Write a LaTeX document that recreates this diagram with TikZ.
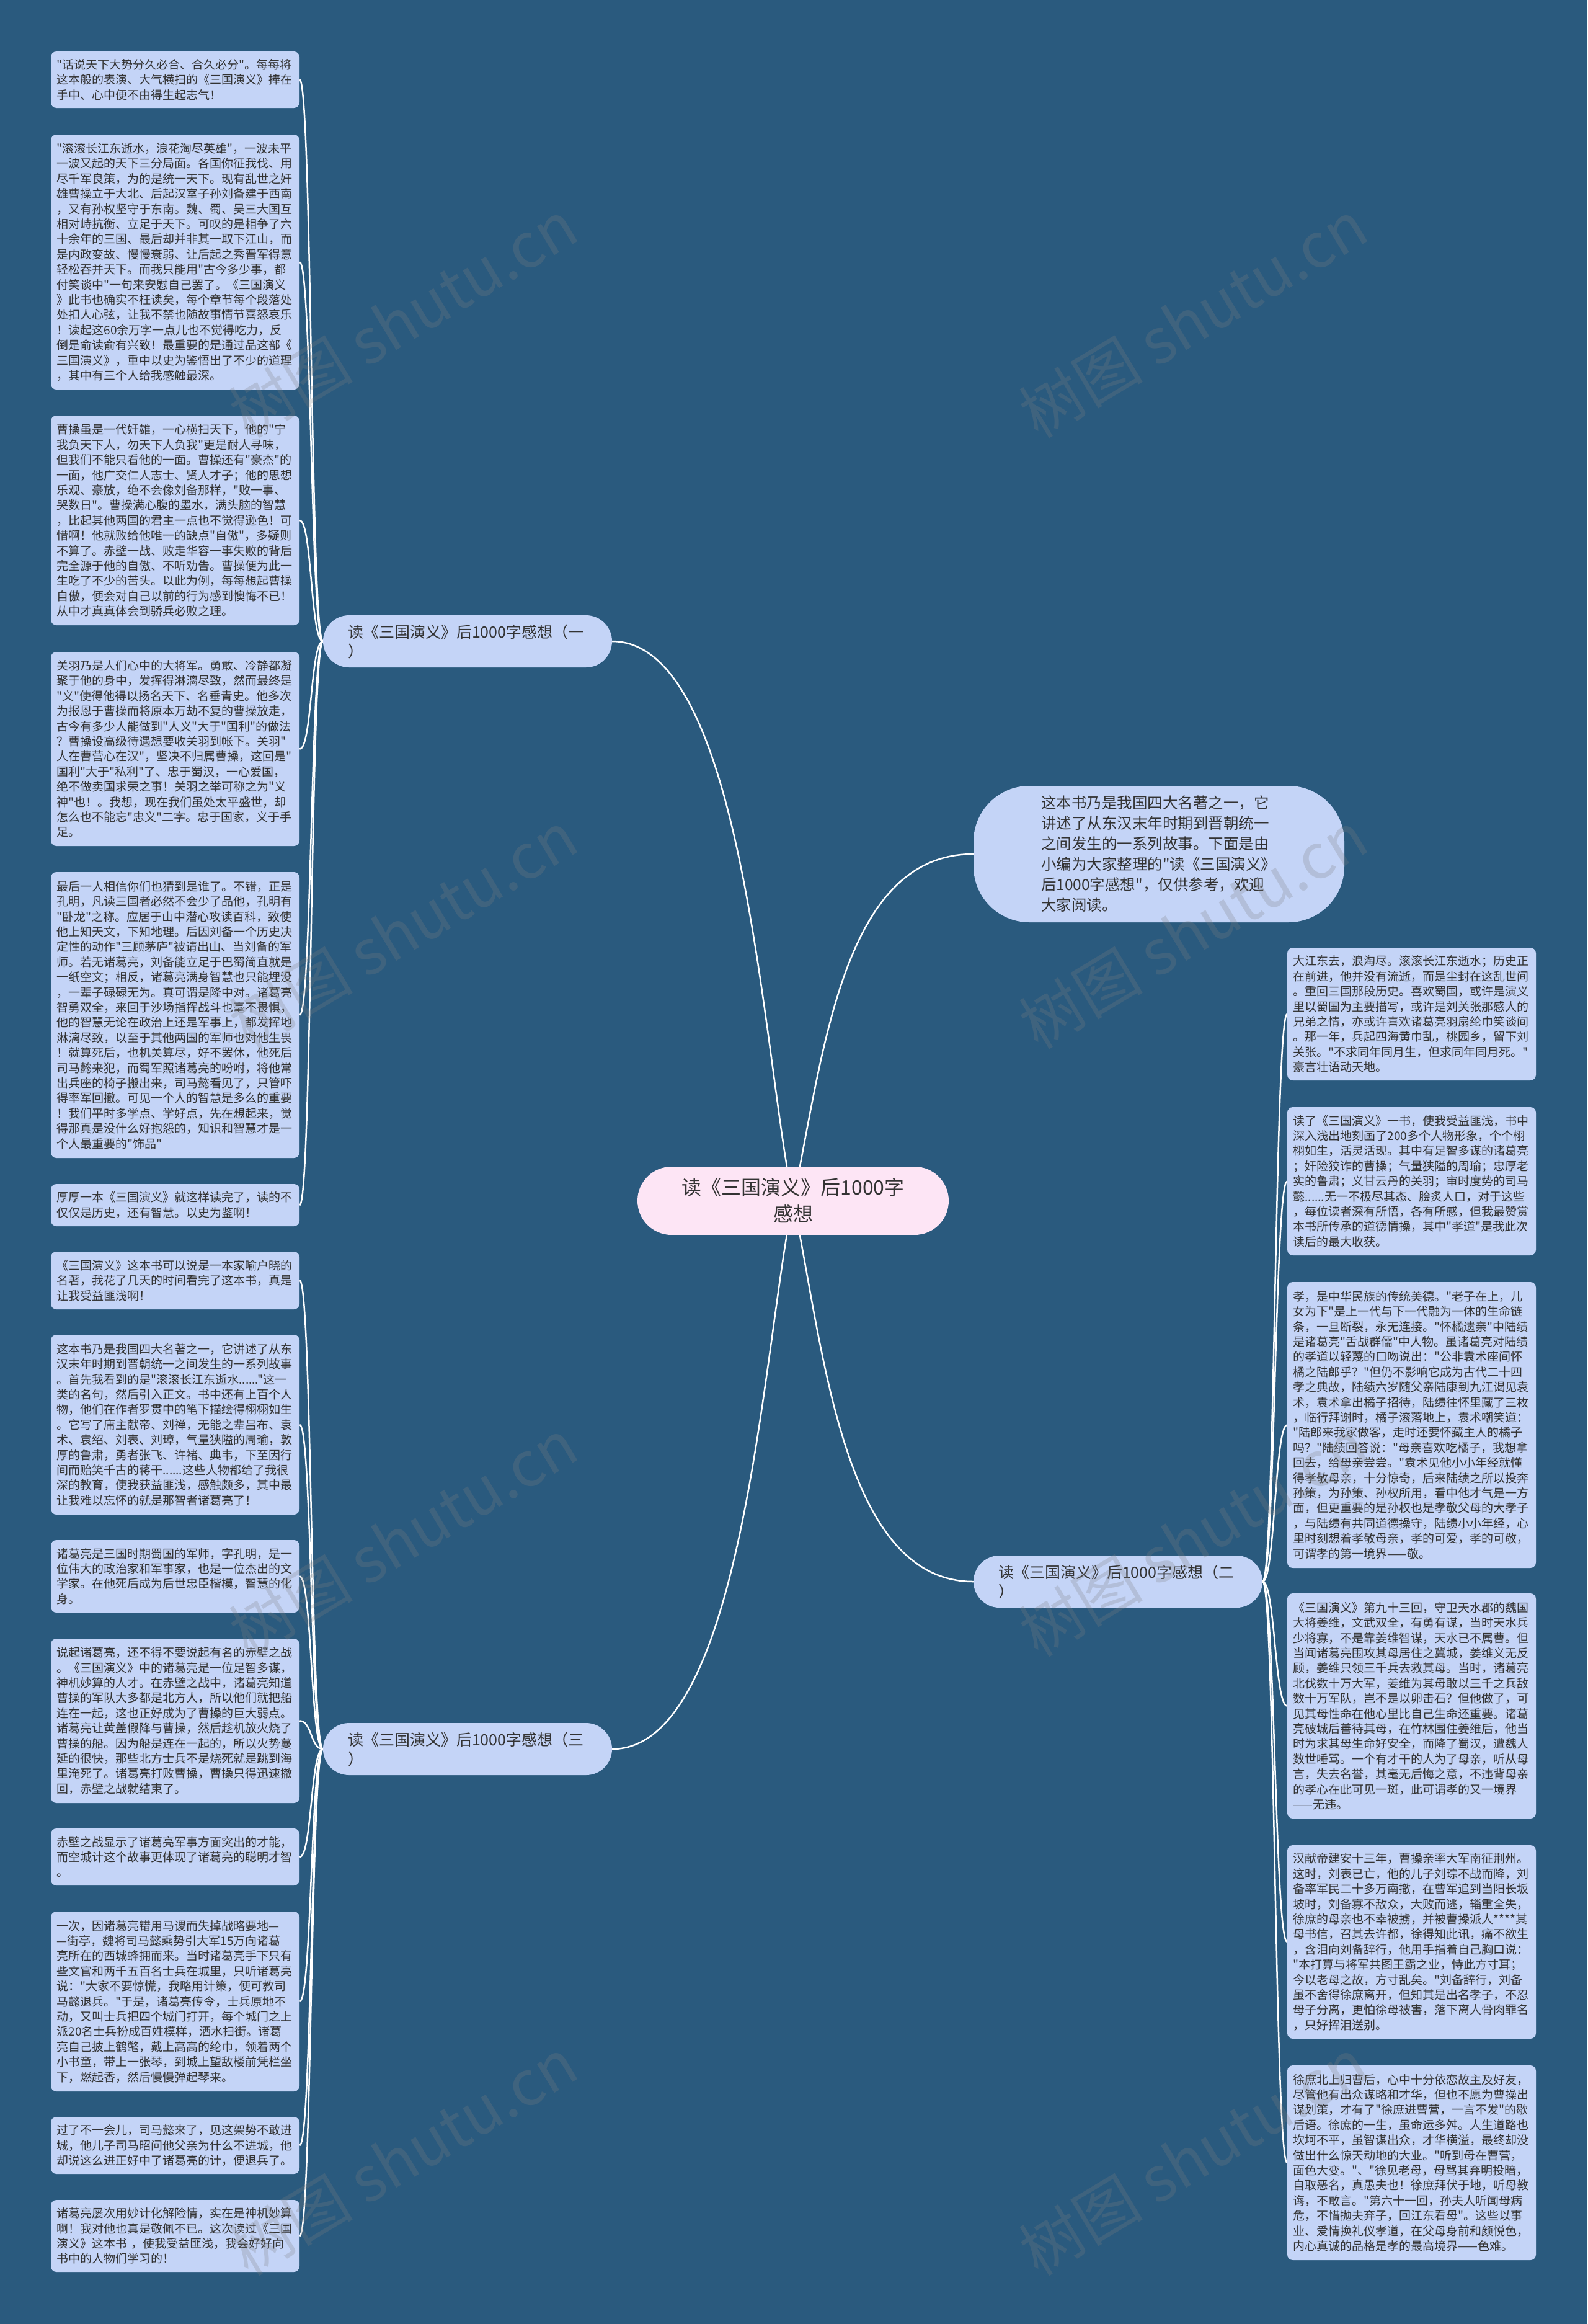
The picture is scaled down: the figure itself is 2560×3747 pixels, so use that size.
\documentclass[tikz,border=0pt]{standalone}
\usepackage{fontspec}
\setmainfont{Noto Sans CJK SC}[Ligatures=TeXOff]
\usetikzlibrary{backgrounds}

\definecolor{nen}{HTML}{2A5A7E}
\definecolor{la}{HTML}{C4D4F7}
\definecolor{goc}{HTML}{FDE5F5}
\definecolor{chu}{HTML}{333333}

\tikzset{
	leafbox/.style={fill=la, rounded corners=9pt, text=chu, align=left,
		text width=382pt, inner xsep=9.5pt, inner ysep=0pt,
		font=\fontsize{19}{24.4}\selectfont},
	branchbox/.style={fill=la, rounded corners=42pt, text=chu, align=left,
		text width=386pt, inner xsep=40pt, minimum height=84pt,
		font=\fontsize{25}{31}\selectfont},
	rootbox/.style={fill=goc, rounded corners=55pt, text=chu, align=center,
		minimum width=502pt, minimum height=110pt,
		font=\fontsize{32}{43}\selectfont},
	introbox/.style={fill=la, rounded corners=90pt, text=chu, align=left,
		text width=380pt, inner xsep=109pt, minimum height=220pt,
		font=\fontsize{24.5}{33}\selectfont},
	link/.style={white, line width=2.5pt},
	wm/.style={gray, opacity=0.25, rotate=31, font=\fontsize{100}{100}\selectfont}
}

\begin{document}
\begin{tikzpicture}[x=1pt, y=-1pt]
	
	% 1. Cột trái, cột phải
	\def\lx{282.5}
	\def\rx{2276.5}
	
	% 2. Nút gốc và các nhánh
	\node[rootbox] (root) at (1279,1936) {读《三国演义》后1000字\\感想};
	\node[introbox] (intro) at (1869,1377) {这本书乃是我国四大名著之一，它\\
讲述了从东汉末年时期到晋朝统一\\
之间发生的一系列故事。下面是由\\
小编为大家整理的"读《三国演义》\\
后1000字感想"，仅供参考，欢迎\\
大家阅读。};
	\node[branchbox] (b1) at (754,1034) {读《三国演义》后1000字感想（一\\）};
	\node[branchbox] (b2) at (1803,2550) {读《三国演义》后1000字感想（二\\）};
	\node[branchbox] (b3) at (754,2820) {读《三国演义》后1000字感想（三\\）};
	
	% 3. Lá bên trái (nhánh một)
	\node[leafbox, minimum height=91pt] (l1) at (\lx,128.5) {"话说天下大势分久必合、合久必分"。每每将\\
这本般的表演、大气横扫的《三国演义》捧在\\
手中、心中便不由得生起志气！};
	\node[leafbox, minimum height=411pt] (l2) at (\lx,422.5) {"滚滚长江东逝水，浪花淘尽英雄"，一波未平\\
一波又起的天下三分局面。各国你征我伐、用\\
尽千军良策，为的是统一天下。现有乱世之奸\\
雄曹操立于大北、后起汉室子孙刘备建于西南\\
，又有孙权坚守于东南。魏、蜀、吴三大国互\\
相对峙抗衡、立足于天下。可叹的是相争了六\\
十余年的三国、最后却并非其一取下江山，而\\
是内政变故、慢慢衰弱、让后起之秀晋军得意\\
轻松吞并天下。而我只能用"古今多少事，都\\
付笑谈中"一句来安慰自己罢了。《三国演义\\
》此书也确实不枉读矣，每个章节每个段落处\\
处扣人心弦，让我不禁也随故事情节喜怒哀乐\\
！读起这60余万字一点儿也不觉得吃力，反\\
倒是俞读俞有兴致！最重要的是通过品这部《\\
三国演义》，重中以史为鉴悟出了不少的道理\\
，其中有三个人给我感触最深。};
	\node[leafbox, minimum height=338pt] (l3) at (\lx,839) {曹操虽是一代奸雄，一心横扫天下，他的"宁\\
我负天下人，勿天下人负我"更是耐人寻味，\\
但我们不能只看他的一面。曹操还有"豪杰"的\\
一面，他广交仁人志士、贤人才子；他的思想\\
乐观、豪放，绝不会像刘备那样，"败一事、\\
哭数日"。曹操满心腹的墨水，满头脑的智慧\\
，比起其他两国的君主一点也不觉得逊色！可\\
惜啊！他就败给他唯一的缺点"自傲"，多疑则\\
不算了。赤壁一战、败走华容一事失败的背后\\
完全源于他的自傲、不听劝告。曹操便为此一\\
生吃了不少的苦头。以此为例，每每想起曹操\\
自傲，便会对自己以前的行为感到懊悔不已！\\
从中才真真体会到骄兵必败之理。};
	\node[leafbox, minimum height=313pt] (l4) at (\lx,1207.5) {关羽乃是人们心中的大将军。勇敢、冷静都凝\\
聚于他的身中，发挥得淋漓尽致，然而最终是\\
"义"使得他得以扬名天下、名垂青史。他多次\\
为报恩于曹操而将原本万劫不复的曹操放走，\\
古今有多少人能做到"人义"大于"国利"的做法\\
？曹操设高级待遇想要收关羽到帐下。关羽"\\
人在曹营心在汉"，坚决不归属曹操，这回是"\\
国利"大于"私利"了、忠于蜀汉，一心爱国，\\
绝不做卖国求荣之事！关羽之举可称之为"义\\
神"也！。我想，现在我们虽处太平盛世，却\\
怎么也不能忘"忠义"二字。忠于国家，义于手\\
足。};
	\node[leafbox, minimum height=461pt] (l5) at (\lx,1636.5) {最后一人相信你们也猜到是谁了。不错，正是\\
孔明，凡读三国者必然不会少了品他，孔明有\\
"卧龙"之称。应居于山中潜心攻读百科，致使\\
他上知天文，下知地理。后因刘备一个历史决\\
定性的动作"三顾茅庐"被请出山、当刘备的军\\
师。若无诸葛亮，刘备能立足于巴蜀简直就是\\
一纸空文；相反，诸葛亮满身智慧也只能埋没\\
，一辈子碌碌无为。真可谓是隆中对。诸葛亮\\
智勇双全，来回于沙场指挥战斗也毫不畏惧，\\
他的智慧无论在政治上还是军事上，都发挥地\\
淋漓尽致，以至于其他两国的军师也对他生畏\\
！就算死后，也机关算尽，好不罢休，他死后\\
司马懿来犯，而蜀军照诸葛亮的吩咐，将他常\\
出兵座的椅子搬出来，司马懿看见了，只管吓\\
得率军回撤。可见一个人的智慧是多么的重要\\
！我们平时多学点、学好点，先在想起来，觉\\
得那真是没什么好抱怨的，知识和智慧才是一\\
个人最重要的"饰品"};
	\node[leafbox, minimum height=68pt] (l6) at (\lx,1943) {厚厚一本《三国演义》就这样读完了，读的不\\
仅仅是历史，还有智慧。以史为鉴啊！};
	
	% 4. Lá bên trái (nhánh ba)
	\node[leafbox, minimum height=93pt] (l7) at (\lx,2064.5) {《三国演义》这本书可以说是一本家喻户晓的\\
名著，我花了几天的时间看完了这本书，真是\\
让我受益匪浅啊！};
	\node[leafbox, minimum height=290pt] (l8) at (\lx,2297) {这本书乃是我国四大名著之一，它讲述了从东\\
汉末年时期到晋朝统一之间发生的一系列故事\\
。首先我看到的是"滚滚长江东逝水......"这一\\
类的名句，然后引入正文。书中还有上百个人\\
物，他们在作者罗贯中的笔下描绘得栩栩如生\\
。它写了庸主献帝、刘禅，无能之辈吕布、袁\\
术、袁绍、刘表、刘璋，气量狭隘的周瑜，敦\\
厚的鲁肃，勇者张飞、许褚、典韦，下至因行\\
间而贻笑千古的蒋干......这些人物都给了我很\\
深的教育，使我获益匪浅，感触颇多，其中最\\
让我难以忘怀的就是那智者诸葛亮了！};
	\node[leafbox, minimum height=117pt] (l9) at (\lx,2541.5) {诸葛亮是三国时期蜀国的军师，字孔明，是一\\
位伟大的政治家和军事家，也是一位杰出的文\\
学家。在他死后成为后世忠臣楷模，智慧的化\\
身。};
	\node[leafbox, minimum height=265pt] (l10) at (\lx,2774.5) {说起诸葛亮，还不得不要说起有名的赤壁之战\\
。《三国演义》中的诸葛亮是一位足智多谋，\\
神机妙算的人才。在赤壁之战中，诸葛亮知道\\
曹操的军队大多都是北方人，所以他们就把船\\
连在一起，这也正好成为了曹操的巨大弱点。\\
诸葛亮让黄盖假降与曹操，然后趁机放火烧了\\
曹操的船。因为船是连在一起的，所以火势蔓\\
延的很快，那些北方士兵不是烧死就是跳到海\\
里淹死了。诸葛亮打败曹操，曹操只得迅速撤\\
回，赤壁之战就结束了。};
	\node[leafbox, minimum height=92pt] (l11) at (\lx,2994) {赤壁之战显示了诸葛亮军事方面突出的才能，\\
而空城计这个故事更体现了诸葛亮的聪明才智\\
。};
	\node[leafbox, minimum height=290pt] (l12) at (\lx,3227) {一次，因诸葛亮错用马谡而失掉战略要地—\\
—街亭，魏将司马懿乘势引大军15万向诸葛\\
亮所在的西城蜂拥而来。当时诸葛亮手下只有\\
些文官和两千五百名士兵在城里，只听诸葛亮\\
说："大家不要惊慌，我略用计策，便可教司\\
马懿退兵。"于是，诸葛亮传令，士兵原地不\\
动，又叫士兵把四个城门打开，每个城门之上\\
派20名士兵扮成百姓模样，洒水扫街。诸葛\\
亮自己披上鹤氅，戴上高高的纶巾，领着两个\\
小书童，带上一张琴，到城上望敌楼前凭栏坐\\
下，燃起香，然后慢慢弹起琴来。};
	\node[leafbox, minimum height=92pt] (l13) at (\lx,3459) {过了不一会儿，司马懿来了，见这架势不敢进\\
城，他儿子司马昭问他父亲为什么不进城，他\\
却说这么进正好中了诸葛亮的计，便退兵了。};
	\node[leafbox, minimum height=116pt] (l14) at (\lx,3605) {诸葛亮屡次用妙计化解险情，实在是神机妙算\\
啊！我对他也真是敬佩不已。这次读过《三国\\
演义》这本书 ，使我受益匪浅，我会好好向\\
书中的人物们学习的！};
	
	% 5. Lá bên phải (nhánh hai)
	\node[leafbox, minimum height=214pt] (r1) at (\rx,1635) {大江东去，浪淘尽。滚滚长江东逝水；历史正\\
在前进，他并没有流逝，而是尘封在这乱世间\\
。重回三国那段历史。喜欢蜀国，或许是演义\\
里以蜀国为主要描写，或许是刘关张那感人的\\
兄弟之情，亦或许喜欢诸葛亮羽扇纶巾笑谈间\\
。那一年，兵起四海黄巾乱，桃园乡，留下刘\\
关张。"不求同年同月生，但求同年同月死。"\\
豪言壮语动天地。};
	\node[leafbox, minimum height=239pt] (r2) at (\rx,1904.5) {读了《三国演义》一书，使我受益匪浅，书中\\
深入浅出地刻画了200多个人物形象，个个栩\\
栩如生，活灵活现。其中有足智多谋的诸葛亮\\
；奸险狡诈的曹操；气量狭隘的周瑜；忠厚老\\
实的鲁肃；义甘云丹的关羽；审时度势的司马\\
懿......无一不极尽其态、脍炙人口，对于这些\\
，每位读者深有所悟，各有所感，但我最赞赏\\
本书所传承的道德情操，其中"孝道"是我此次\\
读后的最大收获。};
	\node[leafbox, minimum height=461pt] (r3) at (\rx,2297.5) {孝，是中华民族的传统美德。"老子在上，儿\\
女为下"是上一代与下一代融为一体的生命链\\
条，一旦断裂，永无连接。"怀橘遗亲"中陆绩\\
是诸葛亮"舌战群儒"中人物。虽诸葛亮对陆绩\\
的孝道以轻蔑的口吻说出："公非袁术座间怀\\
橘之陆郎乎？"但仍不影响它成为古代二十四\\
孝之典故，陆绩六岁随父亲陆康到九江谒见袁\\
术，袁术拿出橘子招待，陆绩往怀里藏了三枚\\
，临行拜谢时，橘子滚落地上，袁术嘲笑道：\\
"陆郎来我家做客，走时还要怀藏主人的橘子\\
吗？"陆绩回答说："母亲喜欢吃橘子，我想拿\\
回去，给母亲尝尝。"袁术见他小小年经就懂\\
得孝敬母亲，十分惊奇，后来陆绩之所以投奔\\
孙策，为孙策、孙权所用，看中他才气是一方\\
面，但更重要的是孙权也是孝敬父母的大孝子\\
，与陆绩有共同道德操守，陆绩小小年经，心\\
里时刻想着孝敬母亲，孝的可爱，孝的可敬，\\
可谓孝的第一境界——敬。};
	\node[leafbox, minimum height=363pt] (r4) at (\rx,2750.5) {《三国演义》第九十三回，守卫天水郡的魏国\\
大将姜维，文武双全，有勇有谋，当时天水兵\\
少将寡，不是靠姜维智谋，天水已不属曹。但\\
当闻诸葛亮围攻其母居住之冀城，姜维义无反\\
顾，姜维只领三千兵去救其母。当时，诸葛亮\\
北伐数十万大军，姜维为其母敢以三千之兵敌\\
数十万军队，岂不是以卵击石？但他做了，可\\
见其母性命在他心里比自己生命还重要。诸葛\\
亮破城后善待其母，在竹林围住姜维后，他当\\
时为求其母生命好安全，而降了蜀汉，遭魏人\\
数世唾骂。一个有才干的人为了母亲，听从母\\
言，失去名誉，其毫无后悔之意，不违背母亲\\
的孝心在此可见一斑，此可谓孝的又一境界\\
——无违。};
	\node[leafbox, minimum height=312pt] (r5) at (\rx,3131) {汉献帝建安十三年，曹操亲率大军南征荆州。\\
这时，刘表已亡，他的儿子刘琮不战而降，刘\\
备率军民二十多万南撤，在曹军追到当阳长坂\\
坡时，刘备寡不敌众，大败而逃，辎重全失，\\
徐庶的母亲也不幸被掳，并被曹操派人****其\\
母书信，召其去许都，徐得知此讯，痛不欲生\\
，含泪向刘备辞行，他用手指着自己胸口说：\\
"本打算与将军共图王霸之业，恃此方寸耳；\\
今以老母之故，方寸乱矣。"刘备辞行，刘备\\
虽不舍得徐庶离开，但知其是出名孝子，不忍\\
母子分离，更怕徐母被害，落下离人骨肉罪名\\
，只好挥泪送别。};
	\node[leafbox, minimum height=314pt] (r6) at (\rx,3487) {徐庶北上归曹后，心中十分依恋故主及好友，\\
尽管他有出众谋略和才华，但也不愿为曹操出\\
谋划策，才有了"徐庶进曹营，一言不发"的歇\\
后语。徐庶的一生，虽命运多舛。人生道路也\\
坎坷不平，虽智谋出众，才华横溢，最终却没\\
做出什么惊天动地的大业。"听到母在曹营，\\
面色大变。"、"徐见老母，母骂其弃明投暗，\\
自取恶名，真愚夫也！徐庶拜伏于地，听母教\\
诲，不敢言。"第六十一回，孙夫人听闻母病\\
危，不惜抛夫弃子，回江东看母"。这些以事\\
业、爱情换礼仪孝道，在父母身前和颜悦色，\\
内心真诚的品格是孝的最高境界——色难。};
	
	% 6. Nền và đường nối (lớp dưới)
	\begin{pgfonlayer}{background}
		\fill[nen] (0,0) rectangle (2560,3747);
		\draw[link] (root.center) .. controls (1230,1700) and (1200,1034) .. (b1.east);
		\draw[link] (root.center) .. controls (1230,2170) and (1200,2820) .. (b3.east);
		\draw[link] (root.center) .. controls (1328,1700) and (1358,1377) .. (intro.west);
		\draw[link] (root.center) .. controls (1328,2170) and (1358,2550) .. (b2.west);
		\foreach \i in {1,...,6}
		\draw[link] (b1.west) .. controls +(-20,0) and +(20,0) .. (l\i.east);
		\foreach \i in {7,...,14}
		\draw[link] (b3.west) .. controls +(-20,0) and +(20,0) .. (l\i.east);
		\foreach \i in {1,...,6}
		\draw[link] (b2.east) .. controls +(20,0) and +(-20,0) .. (r\i.west);
	\end{pgfonlayer}
	
	% 7. Chữ chìm
	\node[wm] (w1) at (650,514) {树图 shutu.cn};
	\node[wm] (w2) at (1924,514) {树图 shutu.cn};
	\node[wm] (w3) at (650,1499) {树图 shutu.cn};
	\node[wm] (w4) at (1924,1499) {树图 shutu.cn};
	\node[wm] (w5) at (650,2479) {树图 shutu.cn};
	\node[wm] (w6) at (1924,2479) {树图 shutu.cn};
	\node[wm] (w7) at (650,3477) {树图 shutu.cn};
	\node[wm] (w8) at (1924,3477) {树图 shutu.cn};
	
\end{tikzpicture}
\end{document}
